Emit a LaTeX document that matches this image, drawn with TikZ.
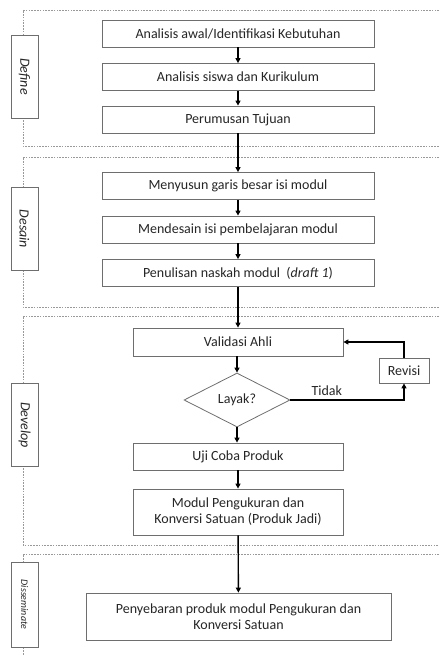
\documentclass[tikz,border=0pt]{standalone}
\usepackage{fontspec}
\setmainfont{Carlito}
\usetikzlibrary{arrows.meta,positioning,calc,shapes.geometric}
\definecolor{txtgray}{HTML}{262626}
\definecolor{linegray}{HTML}{6E6E6E}

\begin{document}
\begin{tikzpicture}[
      x=1pt, y=-1pt,
      font=\fontsize{14}{16}\selectfont, text=txtgray,
      box/.style={draw=linegray, line width=0.8pt, align=center, fill=white,
                  inner sep=2pt, minimum height=27pt, minimum width=272pt},
      pbox/.style={box, minimum width=210pt},
      phase/.style={draw=linegray, line width=0.8pt, fill=white, rotate=-90,
                    minimum width=83pt, minimum height=27pt, inner sep=1pt,
                    font=\fontsize{14}{16}\selectfont\itshape},
      region/.style={draw=gray!80, line width=0.7pt, dash pattern=on 1.6pt off 1.2pt},
      flow/.style={-{Triangle[length=5pt, width=5pt]}, line width=1.4pt, draw=black},
    ]
    \useasboundingbox (0,0) rectangle (439,655);

    % --- phase regions -----------------------------------------------------
    \draw[region] (439,10)  -| (23,146) -- (439,146);
    \draw[region] (439,157) -| (23,307) -- (439,307);
    \draw[region] (439,316) -| (23,545) -- (439,545);
    \draw[region] (439,554) -| (23,655);

    % --- phase labels ------------------------------------------------------
    \node[phase] (pdef) at (24.5,76.5) {Define};
    \node[phase] (pdes) at (24.5,229)  {Desain};
    \node[phase] (pdev) at (24.5,425)  {Develop};
    \node[phase, minimum width=85pt, font=\fontsize{10}{12}\selectfont\itshape]
          (pdis) at (24.5,604.5) {Disseminate};

    % --- define ------------------------------------------------------------
    \node[box] (awal)  at (238,33.5)  {Analisis awal/Identifikasi Kebutuhan};
    \node[box] (siswa) at (238,77)    {Analisis siswa dan Kurikulum};
    \node[box] (tuju)  at (238,119.5) {Perumusan Tujuan};

    % --- desain ------------------------------------------------------------
    \node[box] (garis) at (238,186)   {Menyusun garis besar isi modul};
    \node[box] (isi)   at (238,229.5) {Mendesain isi pembelajaran modul};
    \node[box] (draft) at (238,273)   {Penulisan naskah modul \ (\textit{draft 1})};

    % --- develop -----------------------------------------------------------
    \node[pbox, minimum height=28pt] (valid) at (238,342) {Validasi Ahli};
    \node[diamond, draw=linegray, line width=0.8pt, inner sep=0pt,
          minimum width=106pt, minimum height=54pt] (layak) at (237,400) {Layak?};
    \node[box, minimum width=50pt, minimum height=25pt] (revisi) at (404,370.5) {Revisi};
    \node[pbox] (uji)   at (238,456.5) {Uji Coba Produk};
    \node[pbox, minimum height=46pt] (jadi) at (238,512)
          {Modul Pengukuran dan\\Konversi Satuan (Produk Jadi)};

    % --- disseminate -------------------------------------------------------
    \node[box, minimum width=305pt, minimum height=47pt] (sebar) at (238.5,616.5)
          {Penyebaran produk modul Pengukuran dan\\Konversi Satuan};

    % --- main flow ---------------------------------------------------------
    \draw[flow] (awal)  -- (siswa);
    \draw[flow] (siswa) -- (tuju);
    \draw[flow] (tuju)  -- (garis);
    \draw[flow] (garis) -- (isi);
    \draw[flow] (isi)   -- (draft);
    \draw[flow] (draft) -- (valid);
    \draw[flow] (valid.south -| layak.north) -- (layak.north);
    \draw[flow] (layak.south) -- (uji.north -| layak.south);
    \draw[flow] (uji)   -- (jadi);
    \draw[flow] (jadi)  -- (sebar);

    % --- revision loop -----------------------------------------------------
    \draw[flow] (layak.east) -| node[above, pos=0.16, text=txtgray] {Tidak} (revisi.south);
    \draw[flow] (revisi.north) |- (valid.east);
  \end{tikzpicture}
\end{document}
